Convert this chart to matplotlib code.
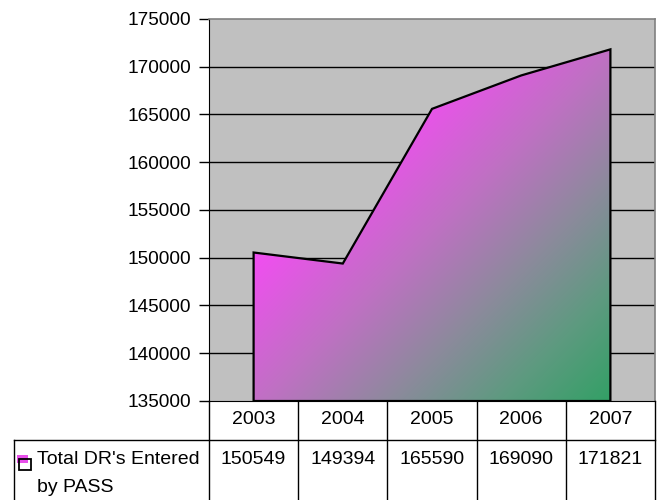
import numpy as np
import matplotlib
matplotlib.use("Agg")
import matplotlib.pyplot as plt
from matplotlib.colors import LinearSegmentedColormap
from matplotlib.patches import Polygon, Rectangle
from matplotlib.lines import Line2D

plt.rcParams['font.family'] = ['Liberation Sans', 'DejaVu Sans']

years = ["2003", "2004", "2005", "2006", "2007"]
entered = [150549, 149394, 165590, 169090, 171821]
series_name = "Total DR's Entered\nby PASS"
y_ticks = list(range(135000, 175001, 5000))

W, H = 660, 500
FS_TICK = 13.7
FS_TAB = 14
fig = plt.figure(figsize=(W / 100, H / 100), dpi=100)

# plot area in pixel coordinates
left, right, top, bottom = 209, 655, 19, 401
ax = fig.add_axes([left / W, 1 - bottom / H, (right - left) / W, (bottom - top) / H])
ax.set_facecolor("#C0C0C0")

x = np.arange(len(years))
ymin, ymax = y_ticks[0], y_ticks[-1]
ax.set_xlim(-0.5, len(years) - 0.5)
ax.set_ylim(ymin, ymax)

for t in y_ticks[1:-1]:
    ax.axhline(t, color="black", lw=1, zorder=1)

# area polygon with a diagonal magenta -> green gradient
verts = [(x[0], ymin)] + list(zip(x, entered)) + [(x[-1], ymin)]
poly = Polygon(verts, closed=True, facecolor="none", edgecolor="black", lw=1.6, zorder=4)
ax.add_patch(poly)

s_lo, s_hi = 520, 1011
stops = [520, 660, 790, 900, 1011]
cols = ["#EE50EE", "#C070C4", "#8C8A9C", "#5E9A80", "#33A066"]
cmap = LinearSegmentedColormap.from_list(
    "fill", [((s - s_lo) / (s_hi - s_lo), c) for s, c in zip(stops, cols)])

# gradient runs along x + y in pixel space (45 degree bands)
x0_px = left + 0.5 * (right - left) / len(years)
x1_px = right - 0.5 * (right - left) / len(years)
y0_px = bottom - (max(entered) - ymin) / (ymax - ymin) * (bottom - top)
px = np.linspace(x0_px, x1_px, 400)
py = np.linspace(y0_px, bottom, 400)
PX, PY = np.meshgrid(px, py)
grad = PX + PY

im = ax.imshow(grad, extent=[x[0], x[-1], ymin, max(entered)], origin="upper",
               aspect="auto", cmap=cmap, vmin=s_lo, vmax=s_hi, zorder=3, interpolation="bilinear")
clip = Polygon(verts, closed=True, transform=ax.transData, facecolor="none")
im.set_clip_path(clip)

ax.set_yticks(y_ticks)
ax.set_yticklabels([str(t) for t in y_ticks], fontsize=FS_TICK)
ax.tick_params(axis="y", length=7, width=1, color="black", pad=6)
ax.set_xticks([])
for side in ["top", "right"]:
    ax.spines[side].set_color("#808080")
    ax.spines[side].set_linewidth(1.2)
ax.spines["left"].set_color("black")
ax.spines["bottom"].set_color("black")


def fx(p):
    return p / W


def fy(p):
    return 1 - p / H


def hline(xa, xb, y):
    fig.add_artist(Line2D([fx(xa), fx(xb)], [fy(y), fy(y)], color="black", lw=1,
                          transform=fig.transFigure))


def vline(xp, ya, yb):
    fig.add_artist(Line2D([fx(xp), fx(xp)], [fy(ya), fy(yb)], color="black", lw=1,
                          transform=fig.transFigure))


# data table under the chart
col_w = (right - left) / len(years)
row1_bottom = 440
table_left = 14
hline(table_left, right, row1_bottom)
for i in range(len(years) + 1):
    vline(left + i * col_w, bottom, H + 2)
vline(table_left, row1_bottom, H + 2)

for i, (yr, val) in enumerate(zip(years, entered)):
    cx = left + (i + 0.5) * col_w
    fig.text(fx(cx), fy(419), yr, ha="center", va="center", fontsize=FS_TAB)
    fig.text(fx(cx), fy(460), str(val), ha="center", va="center", fontsize=FS_TAB)

label_lines = series_name.split("\n")
fig.text(fx(37), fy(460), label_lines[0], ha="left", va="center", fontsize=FS_TAB)
fig.text(fx(37), fy(488), label_lines[1], ha="left", va="center", fontsize=FS_TAB)

# legend key
kax = fig.add_axes([fx(17), fy(471), (32 - 17) / W, (471 - 455) / H])
kax.set_xlim(0, 1)
kax.set_ylim(0, 1)
kax.axis("off")
kax.add_patch(Rectangle((0.0, 0.5), 0.75, 0.5, facecolor="#E84FEA", edgecolor="none"))
kax.add_patch(Rectangle((0.15, 0.04), 0.78, 0.72, facecolor="none", edgecolor="black", lw=1.3))

fig.savefig("out.png", dpi=100)
